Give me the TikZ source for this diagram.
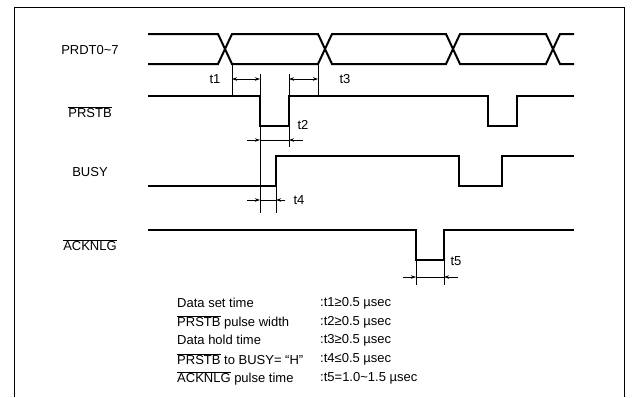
\documentclass[tikz,border=0pt]{standalone}
\usepackage{fontspec}
\setmainfont{Liberation Sans}
\usetikzlibrary{arrows.meta, positioning}

\newcommand{\ovl}[1]{\(\overline{\hbox{#1}}\)}

\begin{document}
\begin{tikzpicture}[
    x=1pt, y=-1pt,
    signal/.style={line width=2pt},
    guide/.style={line width=0.7pt},
    dimarrow/.style={line width=0.7pt, -{Stealth[length=5pt,width=3.5pt]}},
    dimboth/.style={line width=0.7pt, {Stealth[length=5pt,width=3.5pt]}-{Stealth[length=5pt,width=3.5pt]}},
    signame/.style={font=\fontsize{13}{15}\selectfont, inner sep=0pt},
    tlabel/.style={font=\fontsize{13}{15}\selectfont, inner sep=0pt},
    row/.style={font=\fontsize{13}{15}\selectfont, anchor=west, inner sep=0pt}
]
    \useasboundingbox (0,0) rectangle (634,397);

    % Frame
    \draw[line width=1pt] (14,397) -- (14,7) -- (624,7) -- (624,397);

    % Signal names
    \node[signame] (prdt) at (90,50) {PRDT0\textasciitilde7};
    \node[signame] (prstb) at (90,112) {\ovl{PRSTB}};
    \node[signame] (busy) at (90,172) {BUSY};
    \node[signame] (acknlg) at (90,245) {\ovl{ACKNLG}};

    % Waveforms
    \draw[signal] (148,34) -- (218,34) -- (232,64) -- (318,64) -- (332,34) -- (446,34) -- (460,64) -- (546,64) -- (560,34) -- (574,34);
    \draw[signal] (148,64) -- (218,64) -- (232,34) -- (318,34) -- (332,64) -- (446,64) -- (460,34) -- (546,34) -- (560,64) -- (574,64);
    \draw[signal] (148,96) -- (260,96) -- (260,126) -- (289,126) -- (289,96) -- (488,96) -- (488,126) -- (517,126) -- (517,96) -- (574,96);
    \draw[signal] (148,186) -- (276,186) -- (276,156) -- (459,156) -- (459,186) -- (502,186) -- (502,156) -- (574,156);
    \draw[signal] (148,230) -- (416,230) -- (416,260) -- (444,260) -- (444,230) -- (574,230);

    % Guide lines
    \coordinate (d1) at (232,79);
    \coordinate (s1) at (260,79);
    \coordinate (s2) at (289,79);
    \coordinate (d2) at (318,79);
    \draw[guide] (232,64) -- (232,96);
    \draw[guide] (318,64) -- (318,96);
    \draw[guide] (260,74) -- (260,213);
    \draw[guide] (289,74) -- (289,147);
    \draw[guide] (276,186) -- (276,213);
    \draw[guide] (416,260) -- (416,285);
    \draw[guide] (444,260) -- (444,285);

    % Arrows
    \draw[dimboth] (d1) -- (s1);
    \draw[dimboth] (s2) -- (d2);

    \coordinate (a2) at (247,140);
    \coordinate (b2) at (260,140);
    \coordinate (c2) at (289,140);
    \coordinate (e2) at (303,140);
    \draw[guide] (b2) -- (c2);
    \draw[dimarrow] (a2) -- (b2);
    \draw[dimarrow] (e2) -- (c2);

    \coordinate (a4) at (247,200);
    \coordinate (b4) at (260,200);
    \coordinate (c4) at (276,200);
    \coordinate (e4) at (285,200);
    \draw[guide] (b4) -- (c4);
    \draw[dimarrow] (a4) -- (b4);
    \draw[dimarrow] (e4) -- (c4);

    \coordinate (a5) at (403,277);
    \coordinate (b5) at (416,277);
    \coordinate (c5) at (444,277);
    \coordinate (e5) at (458,277);
    \draw[guide] (b5) -- (c5);
    \draw[dimarrow] (a5) -- (b5);
    \draw[dimarrow] (e5) -- (c5);

    % Time labels
    \node[tlabel] (t1) at (215,79) {t1};
    \node[tlabel] (t2) at (303,125) {t2};
    \node[tlabel] (t3) at (345,79) {t3};
    \node[tlabel] (t4) at (299,200) {t4};
    \node[tlabel] (t5) at (456,261) {t5};

    % Table
    \node[row] (r1) at (177,303) {Data set time};
    \node[row] (r2) at (177,322) {\ovl{PRSTB} pulse width};
    \node[row] (r3) at (177,340) {Data hold time};
    \node[row] (r4) at (177,359) {\ovl{PRSTB} to BUSY= “H”};
    \node[row] (r5) at (177,378) {\ovl{ACKNLG} pulse time};
    \node[row] (v1) at (320,303) {:t1≥0.5 µsec};
    \node[row] (v2) at (320,322) {:t2≥0.5 µsec};
    \node[row] (v3) at (320,340) {:t3≥0.5 µsec};
    \node[row] (v4) at (320,359) {:t4≤0.5 µsec};
    \node[row] (v5) at (320,378) {:t5=1.0\textasciitilde1.5 µsec};
\end{tikzpicture}
\end{document}
